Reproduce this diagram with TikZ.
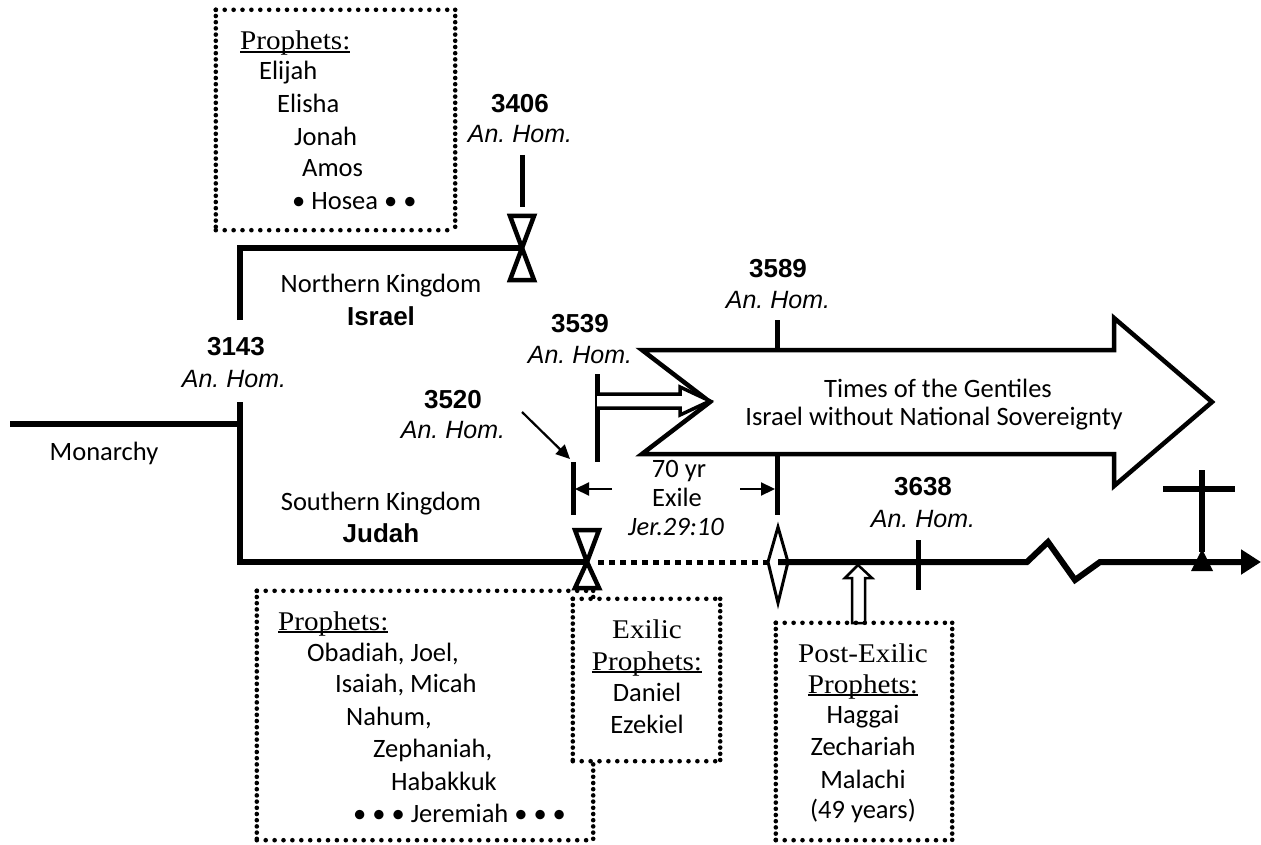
\documentclass[tikz,border=0pt]{standalone}
\usepackage{fontspec}
\setmainfont{Carlito}
\newfontfamily\arialfont{Liberation Sans}
\newfontfamily\cambriafont[FakeStretch=1.08]{Liberation Serif}
\usetikzlibrary{arrows.meta}
\frenchspacing
\newcommand\ulx[1]{\setbox0\hbox{#1}\rlap{\rule[-3pt]{\wd0}{1.8pt}}\box0}
\newcommand\dotframe[1]{%
  \draw[hdots] (#1.north west) -- (#1.north east) (#1.south west) -- (#1.south east);
  \draw[vdots] (#1.north west) -- (#1.south west) (#1.north east) -- (#1.south east);}
\begin{document}
\begin{tikzpicture}[x=1pt,y=-1pt,
  tl/.style={line width=6pt},
  tick/.style={line width=5pt},
  txt/.style={inner sep=0pt, anchor=base, font=\fontsize{26.5}{31}\selectfont},
  txtw/.style={txt, anchor=base west},
  num/.style={inner sep=0pt, anchor=base, font=\arialfont\bfseries\fontsize{26}{30}\selectfont},
  hom/.style={inner sep=0pt, anchor=base, font=\arialfont\itshape\fontsize{25}{30}\selectfont},
  ser/.style={inner sep=0pt, anchor=base, font=\cambriafont\fontsize{27}{31}\selectfont},
  serw/.style={ser, anchor=base west},
  hdots/.style={line width=4.6pt, line cap=round, dash pattern=on 0pt off 8.9pt},
  vdots/.style={line width=4.6pt, line cap=round, dash pattern=on 0pt off 6.2pt},
  framebox/.style={inner sep=0pt, draw=none},
  hourglass/.style={line width=4.5pt, fill=white, line join=miter},
  thinarrow/.style={line width=2.2pt, -{Triangle[length=14pt,width=13pt]}},
]
\useasboundingbox (0,0) rectangle (1261,845);

% ---------- coordinates ----------
\coordinate (mon) at (10,424);
\coordinate (split) at (240,424);
\coordinate (gapTop) at (240,320);
\coordinate (gapBot) at (240,402);
\coordinate (nwc) at (240,248);
\coordinate (swc) at (240,562);
\coordinate (hgN) at (522,248);
\coordinate (hgS) at (587,562);
\coordinate (dashA) at (598,562);
\coordinate (dmL) at (769,562);
\coordinate (dm) at (778,562);
\coordinate (zz1) at (1027,562);
\coordinate (zz2) at (1048,542);
\coordinate (zz3) at (1075,580);
\coordinate (zz4) at (1100,562);
\coordinate (tlend) at (1261,562);

% ---------- Monarchy and split ----------
\draw[tl] (mon) -- (split);
\draw[tl, line join=miter] (gapTop) -- (nwc) -- (hgN);
\draw[tl, line join=miter] (gapBot) -- (swc) -- (hgS);

% ---------- main line to the right ----------
\draw[line width=5pt, dash pattern=on 6pt off 5pt] (dashA) -- (dmL);
\draw[tl, line join=miter, -{Triangle[length=20pt,width=24pt]}] (dm) -- (zz1) -- (zz2) -- (zz3) -- (zz4) -- (tlend);

% ---------- hourglasses ----------
\draw[hourglass] (510,216) -- (534,216) -- (hgN) -- cycle;
\draw[hourglass] (hgN) -- (534,280) -- (510,280) -- cycle;
\draw[tick] (522,155) -- (522,207);

\draw[hourglass] (575,530) -- (599,530) -- (hgS) -- cycle;
\draw[hourglass] (hgS) -- (599,588) -- (575,588) -- cycle;

% ---------- diamond ----------
\draw[line width=3pt, line join=miter] (778,527) -- (788,562) -- (778,603) -- (768,562) -- cycle;

% ---------- big arrow ----------
\draw[line width=4.5pt, fill=white, line join=miter]
  (642,350) -- (1114,350) -- (1114,318) -- (1212,402) -- (1114,486) -- (1114,454) -- (642,454) -- (710,402) -- cycle;
\draw[tick] (777,320) -- (777,350);
\draw[tick] (777,454) -- (777,515);

% ---------- 3539 and double arrow ----------
\draw[tick] (597,374) -- (597,462);
\draw[line width=3.5pt, fill=white, line join=miter]
  (597,394) -- (680,394) -- (680,387) -- (710,401) -- (680,415) -- (680,408) -- (597,408);

% ---------- 3520 ----------
\coordinate (t3520) at (573,462);
\coordinate (a3520) at (522,412);
\draw[tick] (t3520) -- (573,515);
\draw[thinarrow] (a3520) -- (570,459);

% ---------- exile arrows ----------
\coordinate (exL0) at (612,489);
\coordinate (exL1) at (575,489);
\coordinate (exR0) at (740,489);
\coordinate (exR1) at (775,489);
\draw[thinarrow] (exL0) -- (exL1);
\draw[thinarrow] (exR0) -- (exR1);

% ---------- 3638 tick ----------
\draw[tick] (918,540) -- (918,590);

% ---------- cross ----------
\draw[tl] (1202,470) -- (1202,552);
\draw[tl] (1163,489) -- (1235,489);
\fill (1191,571) -- (1213,571) -- (1202,549) -- cycle;

% ---------- hollow up arrow ----------
\draw[line width=2.5pt, fill=white, line join=miter]
  (858,565) -- (872,578) -- (865,578) -- (865,623) -- (852,623) -- (852,578) -- (845,578) -- cycle;

% ---------- dotted boxes ----------
\node[framebox, minimum width=239pt, minimum height=220pt] (nbox) at (335.5,120) {};
\dotframe{nbox}
\node[framebox, minimum width=336pt, minimum height=249pt] (sbox) at (425,715.5) {};
\dotframe{sbox}
\node[framebox, minimum width=147pt, minimum height=162pt, fill=white] (ebox) at (646.5,680) {};
\dotframe{ebox}
\node[framebox, minimum width=176pt, minimum height=217pt] (pbox) at (864,731.5) {};
\dotframe{pbox}

% ---------- labels ----------
\node[txt] (monarchy) at (104,460) {Monarchy};
\node[num] (n3143) at (236,355) {3143};
\node[hom] (h3143) at (234,387) {An.\ Hom.};
\node[txt] (nk) at (381,292) {Northern Kingdom};
\node[num] (israel) at (381,325) {Israel};
\node[txt] (sk) at (381,510) {Southern Kingdom};
\node[num] (judah) at (381,542) {Judah};

\node[num] (n3406) at (520,113) {3406};
\node[hom] (h3406) at (520,143) {An.\ Hom.};
\node[num] (n3520) at (453,408) {3520};
\node[hom] (h3520) at (453,438) {An.\ Hom.};
\node[num] (n3539) at (580,332) {3539};
\node[hom] (h3539) at (580,363) {An.\ Hom.};
\node[num] (n3589) at (778,277) {3589};
\node[hom] (h3589) at (778,308) {An.\ Hom.};
\node[num] (n3638) at (923,495) {3638};
\node[hom] (h3638) at (923,527) {An.\ Hom.};

\node[txt] (yr70) at (679,477) {70 yr};
\node[txt] (exile) at (677,506) {Exile};
\node[txt, font=\itshape\fontsize{26.5}{31}\selectfont] (jer) at (676,535) {Jer.29:10};

\node[txt] (tog) at (938,397) {Times of the Gentiles};
\node[txt] (iwns) at (934,425) {Israel without National Sovereignty};

% north prophets
\node[serw] (np0) at (240,50) {\ulx{Prophets:}};
\node[txtw] (np1) at (259,80) {Elijah};
\node[txtw] (np2) at (277,113) {Elisha};
\node[txtw] (np3) at (294,146) {Jonah};
\node[txtw] (np4) at (302,177) {Amos};
\node[txtw] (np5) at (292,210) {• Hosea • •};

% south prophets
\node[serw] (sp0) at (278,630) {\ulx{Prophets:}};
\node[txtw] (sp1) at (307,661) {Obadiah, Joel,};
\node[txtw] (sp2) at (335,692) {Isaiah, Micah};
\node[txtw] (sp3) at (346,725) {Nahum,};
\node[txtw] (sp4) at (373,757) {Zephaniah,};
\node[txtw] (sp5) at (391,790) {Habakkuk};
\node[txtw] (sp6) at (353,822) {• • • Jeremiah • • •};

% exilic prophets
\node[ser] (ep0) at (647,638) {Exilic};
\node[ser] (ep1) at (647,670) {\ulx{Prophets:}};
\node[txt] (ep2) at (647,701) {Daniel};
\node[txt] (ep3) at (647,733) {Ezekiel};

% post-exilic prophets
\node[ser] (pp0) at (863,662) {Post-Exilic};
\node[ser] (pp1) at (863,693) {\ulx{Prophets:}};
\node[txt] (pp2) at (863,723) {Haggai};
\node[txt] (pp3) at (863,755) {Zechariah};
\node[txt] (pp4) at (863,788) {Malachi};
\node[txt] (pp5) at (863,818) {(49 years)};
\end{tikzpicture}
\end{document}
